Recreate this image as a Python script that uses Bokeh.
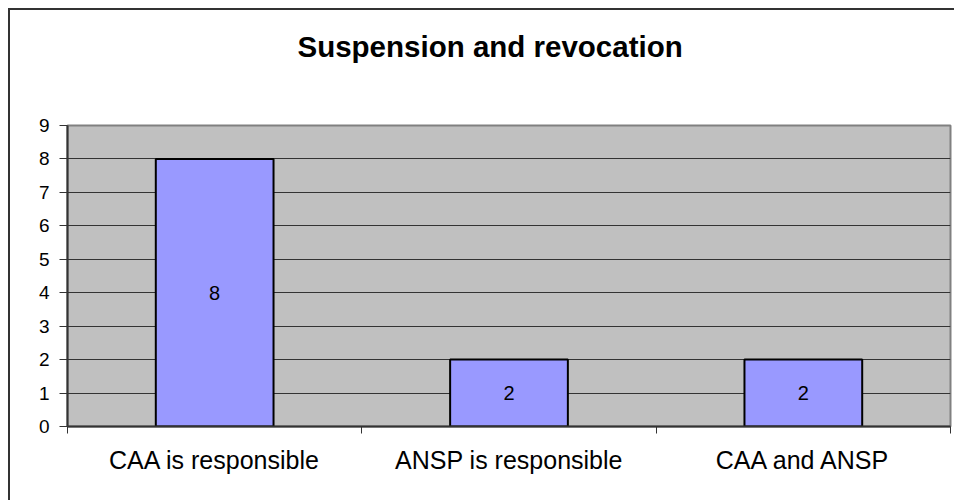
from bokeh.plotting import figure
from bokeh.models import FixedTicker, ColumnDataSource, Range1d, Title
from bokeh.embed import file_html
from bokeh.resources import INLINE
from bokeh.core.properties import value

title_text = "Suspension and revocation"
categories = ["CAA is responsible", "ANSP is responsible", "CAA and ANSP"]
counts = [8, 2, 2]
y_ticks = [0, 1, 2, 3, 4, 5, 6, 7, 8, 9]

FONT = "Liberation Sans"

xs = [i + 0.5 for i in range(len(categories))]
src = ColumnDataSource(dict(x=xs, top=counts, mid=[c / 2 for c in counts],
                            lab=[str(c) for c in counts]))

p = figure(width=946, height=492, output_backend="svg", toolbar_location=None,
           x_range=Range1d(0, len(categories)), y_range=Range1d(0, 9),
           min_border_left=57, min_border_top=115, min_border_bottom=76,
           min_border_right=6, title=title_text)
p.styles = {"margin-left": "8px", "margin-top": "8px",
            "border-top": "2px solid #333333", "border-left": "2px solid #333333"}

p.title.align = "left"
p.title.offset = 230
p.title.standoff = 10
p.title.text_font = FONT
p.title.text_font_size = "29.5px"
p.title.text_font_style = "bold"
p.title.text_color = "black"

# blank spacer between title and plot area (white on white)
spacer = Title(text=".", text_font_size="10px", text_color="white", standoff=48)
p.add_layout(spacer, "above")

p.background_fill_color = "#C0C0C0"
p.border_fill_color = "white"
p.outline_line_color = "#808080"
p.outline_line_width = 2

p.vbar(x="x", top="top", width=0.4, bottom=0, source=src,
       fill_color="#9999FF", line_color="black", line_width=2)
p.text(x="x", y="mid", text="lab", source=src, text_align="center",
       text_baseline="middle", text_font=value(FONT), text_font_size="20px",
       text_color="black")

# y axis
p.yaxis.ticker = FixedTicker(ticks=y_ticks)
p.yaxis.major_tick_out = 8
p.yaxis.major_tick_in = 0
p.yaxis.minor_tick_out = 0
p.yaxis.minor_tick_in = 0
p.yaxis.axis_line_color = "#333333"
p.yaxis.axis_line_width = 2
p.yaxis.major_tick_line_color = "#333333"
p.yaxis.major_label_text_font = FONT
p.yaxis.major_label_text_font_size = "19px"
p.yaxis.major_label_text_color = "black"
p.yaxis.major_label_standoff = 10

# x axis
p.xaxis.ticker = FixedTicker(ticks=xs, minor_ticks=list(range(len(categories) + 1)))
p.xaxis.major_label_overrides = {x: c for x, c in zip(xs, categories)}
p.xaxis.major_tick_line_color = None
p.xaxis.major_tick_out = 0
p.xaxis.major_tick_in = 0
p.xaxis.minor_tick_out = 7
p.xaxis.minor_tick_in = 0
p.xaxis.minor_tick_line_color = "#333333"
p.xaxis.minor_tick_line_width = 1
p.xaxis.axis_line_color = "#333333"
p.xaxis.axis_line_width = 2
p.xaxis.major_label_text_font = FONT
p.xaxis.major_label_text_font_size = "25px"
p.xaxis.major_label_text_color = "black"
p.xaxis.major_label_standoff = 12

p.xgrid.grid_line_color = None
p.ygrid.ticker = FixedTicker(ticks=y_ticks)
p.ygrid.grid_line_color = "#333333"
p.ygrid.grid_line_width = 1

open("out.html", "w").write(file_html(p, INLINE))
